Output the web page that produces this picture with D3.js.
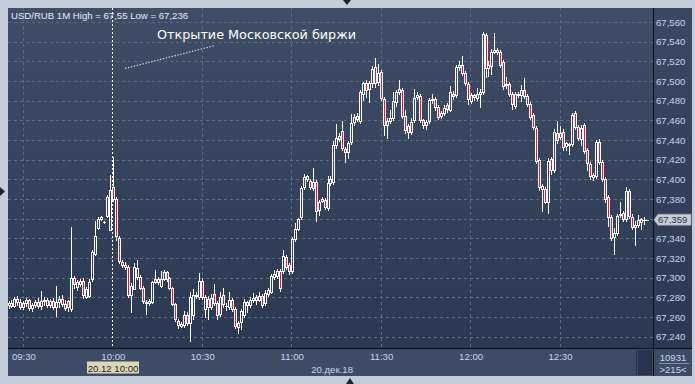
<!DOCTYPE html>
<html><head><meta charset="utf-8">
<script src="https://cdn.jsdelivr.net/npm/d3@7"></script>
<style>body{margin:0;background:#c3cdd9;}svg{display:block;}</style>
</head><body>
<svg id="c" width="695" height="384"></svg>
<script>
// ---- data (USD/RUB 1-minute candles, 20.12.18, from 09:25) ----
const startTime = "09:25";
const opens = [67.272,67.274,67.271,67.278,67.275,67.270,67.274,67.277,67.269,67.272,67.275,67.271,67.276,67.277,67.272,67.276,67.270,67.275,67.278,67.273,67.276,
67.268,67.300,67.291,67.297,67.297,67.280,67.281,67.299,67.324,67.351,67.360,67.357,67.363,67.349,67.392,67.380,67.340,67.316,67.313,67.311,
67.282,67.289,67.301,67.301,67.290,67.275,67.274,67.275,67.299,67.296,67.292,67.299,67.306,67.300,67.290,67.273,67.256,67.251,67.252,67.262,
67.254,67.262,67.282,67.280,67.297,67.268,67.278,67.270,67.283,67.274,67.263,67.282,67.271,67.270,67.277,67.268,67.254,67.255,67.262,67.275,
67.272,67.277,67.280,67.277,67.281,67.274,67.283,67.285,67.301,67.302,67.307,67.307,67.321,67.313,67.307,67.339,67.350,67.362,67.392,67.400,
67.398,67.391,67.397,67.369,67.378,67.379,67.371,67.396,67.397,67.435,67.441,67.449,67.431,67.428,67.438,67.458,67.464,67.459,67.487,67.498,
67.492,67.498,67.514,67.499,67.509,67.482,67.455,67.459,67.462,67.479,67.489,67.491,67.464,67.448,67.458,67.460,67.484,67.485,67.460,67.455,
67.459,67.481,67.482,67.474,67.464,67.467,67.476,67.471,67.487,67.486,67.514,67.516,67.508,67.497,67.480,67.486,67.483,67.487,67.489,67.547,
67.513,67.515,67.530,67.532,67.530,67.519,67.496,67.497,67.487,67.475,67.487,67.486,67.491,67.485,67.477,67.465,67.452,67.420,67.393,67.390,
67.377,67.421,67.409,67.447,67.443,67.448,67.434,67.436,67.436,67.467,67.453,67.441,67.455,67.430,67.416,67.404,67.403,67.438,67.418,67.400,
67.382,67.362,67.341,67.345,67.364,67.366,67.360,67.388,67.362,67.352,67.354,67.360,67.359,67.359];
const highs = [67.276,67.277,67.280,67.281,67.278,67.276,67.279,67.278,67.274,67.277,67.279,67.286,67.280,67.279,67.278,67.279,67.292,67.281,67.282,67.277,67.277,
67.352,67.302,67.298,67.299,67.300,67.291,67.299,67.328,67.358,67.362,67.363,67.358,67.384,67.404,67.423,67.382,67.342,67.318,67.316,67.313,
67.295,67.315,67.318,67.303,67.292,67.277,67.278,67.297,67.308,67.301,67.307,67.308,67.307,67.301,67.291,67.274,67.258,67.255,67.266,67.265,
67.285,67.288,67.285,67.305,67.300,67.282,67.281,67.283,67.294,67.276,67.285,67.290,67.274,67.285,67.279,67.270,67.256,67.268,67.278,67.276,
67.280,67.284,67.282,67.285,67.283,67.287,67.290,67.304,67.308,67.309,67.309,67.328,67.323,67.315,67.341,67.356,67.361,67.393,67.405,67.404,
67.400,67.412,67.399,67.379,67.382,67.381,67.403,67.403,67.439,67.456,67.447,67.459,67.433,67.439,67.466,67.466,67.467,67.491,67.499,67.501,
67.500,67.515,67.523,67.517,67.511,67.484,67.462,67.471,67.489,67.491,67.501,67.493,67.471,67.456,67.462,67.492,67.489,67.487,67.461,67.460,
67.483,67.487,67.484,67.476,67.470,67.476,67.478,67.495,67.490,67.516,67.520,67.525,67.510,67.499,67.488,67.487,67.493,67.492,67.550,67.549,
67.520,67.533,67.549,67.534,67.532,67.521,67.504,67.499,67.489,67.489,67.489,67.496,67.503,67.487,67.479,67.467,67.454,67.422,67.395,67.392,
67.422,67.423,67.451,67.459,67.454,67.451,67.438,67.437,67.467,67.469,67.455,67.455,67.457,67.432,67.418,67.406,67.440,67.441,67.420,67.402,
67.384,67.364,67.351,67.365,67.377,67.368,67.392,67.390,67.365,67.358,67.364,67.361,67.362,67.359];
const lows = [67.269,67.270,67.270,67.272,67.268,67.268,67.271,67.267,67.266,67.270,67.269,67.268,67.272,67.270,67.270,67.268,67.261,67.270,67.271,67.267,67.266,
67.266,67.290,67.287,67.292,67.279,67.279,67.280,67.297,67.323,67.350,67.359,67.356,67.362,67.348,67.378,67.338,67.315,67.311,67.309,67.280,
67.265,67.288,67.299,67.288,67.274,67.263,67.272,67.274,67.295,67.294,67.291,67.298,67.297,67.288,67.272,67.256,67.249,67.250,67.250,67.252,
67.236,67.258,67.279,67.278,67.278,67.260,67.258,67.268,67.272,67.258,67.261,67.270,67.267,67.268,67.266,67.249,67.244,67.248,67.260,67.265,
67.270,67.275,67.273,67.276,67.270,67.272,67.281,67.284,67.299,67.300,67.286,67.305,67.309,67.304,67.305,67.337,67.348,67.360,67.390,67.398,
67.390,67.389,67.358,67.364,67.377,67.370,67.369,67.394,67.395,67.432,67.439,67.430,67.418,67.422,67.436,67.455,67.459,67.457,67.481,67.484,
67.479,67.494,67.494,67.496,67.481,67.445,67.442,67.457,67.460,67.475,67.487,67.462,67.447,67.442,67.446,67.458,67.482,67.458,67.452,67.451,
67.457,67.478,67.471,67.461,67.462,67.465,67.468,67.469,67.482,67.484,67.511,67.506,67.496,67.477,67.478,67.481,67.481,67.474,67.487,67.504,
67.505,67.507,67.528,67.527,67.514,67.492,67.493,67.485,67.472,67.473,67.484,67.480,67.483,67.475,67.461,67.451,67.417,67.389,67.368,67.376,
67.366,67.405,67.407,67.437,67.441,67.430,67.430,67.426,67.434,67.451,67.440,67.435,67.427,67.409,67.400,67.399,67.401,67.416,67.398,67.377,
67.353,67.338,67.324,67.343,67.362,67.358,67.358,67.361,67.350,67.333,67.352,67.350,67.355,67.359];
const closes = [67.274,67.271,67.278,67.275,67.270,67.274,67.277,67.269,67.272,67.275,67.271,67.276,67.277,67.272,67.276,67.270,67.275,67.278,67.273,67.269,67.270,
67.300,67.294,67.296,67.294,67.282,67.289,67.296,67.326,67.342,67.360,67.362,67.357,67.382,67.389,67.380,67.342,67.317,67.313,67.311,67.282,
67.292,67.311,67.310,67.290,67.276,67.274,67.276,67.296,67.296,67.299,67.299,67.306,67.299,67.290,67.273,67.258,67.252,67.253,67.262,67.254,
67.280,67.282,67.281,67.297,67.280,67.280,67.270,67.279,67.274,67.262,67.280,67.273,67.271,67.277,67.268,67.251,67.250,67.266,67.275,67.272,
67.277,67.279,67.277,67.281,67.272,67.284,67.287,67.302,67.304,67.307,67.290,67.322,67.311,67.307,67.339,67.350,67.360,67.391,67.402,67.403,
67.392,67.397,67.368,67.377,67.380,67.372,67.396,67.400,67.435,67.442,67.444,67.432,67.428,67.437,67.457,67.463,67.461,67.489,67.498,67.491,
67.498,67.512,67.498,67.508,67.483,67.455,67.459,67.462,67.480,67.489,67.492,67.464,67.450,67.454,67.448,67.483,67.486,67.460,67.455,67.458,
67.481,67.482,67.474,67.463,67.467,67.473,67.472,67.489,67.485,67.514,67.516,67.508,67.498,67.482,67.486,67.484,67.487,67.489,67.548,67.513,
67.516,67.530,67.532,67.529,67.516,67.495,67.497,67.487,67.477,67.487,67.486,67.491,67.485,67.477,67.463,67.453,67.419,67.392,67.390,67.377,
67.419,67.409,67.448,67.440,67.447,67.433,67.437,67.435,67.465,67.453,67.442,67.452,67.429,67.417,67.403,67.402,67.438,67.418,67.400,67.380,
67.362,67.340,67.345,67.363,67.365,67.360,67.388,67.363,67.352,67.354,67.359,67.357,67.359,67.359];
const priceTicks = [67.24,67.26,67.28,67.30,67.32,67.34,67.36,67.38,67.40,67.42,67.44,67.46,67.48,67.50,67.52,67.54,67.56];
const timeTicks = ["09:30","10:00","10:30","11:00","11:30","12:00","12:30"];
const titleText = "USD/RUB 1M High = 67,55 Low = 67,236";
const noteText = "Открытие Московской биржи";
const markedTime = "10:00";
const markedLabel = "20.12 10:00";
const dateLabel = "20.дек.18";
const volumeText = "10931";
const countText = ">215<";
const lastPrice = 67.359;

// ---- layout ----
const svg = d3.select("#c");
const P = {l:8, t:8, r:653, b:348};
const parseT = d3.timeParse("%H:%M");
const t0 = parseT(startTime);
const n = closes.length;
const x = d3.scaleTime().domain([t0, d3.timeMinute.offset(t0, n-1)]).range([9, 647]);
const y = d3.scaleLinear().domain([67.24, 67.56]).range([336.7, 22]);
const loc = d3.formatLocale({decimal:",", thousands:" ", grouping:[3], currency:["",""]});
const fmt = loc.format(".3f");
const FONT = "'Liberation Sans', Arial, sans-serif";

const defs = svg.append("defs");
const g1 = defs.append("linearGradient").attr("id","bg").attr("x1",0).attr("y1",0).attr("x2",0).attr("y2",1);
g1.append("stop").attr("offset","0%").attr("stop-color","#3f4d67");
g1.append("stop").attr("offset","100%").attr("stop-color","#2b3852");
const g2 = defs.append("linearGradient").attr("id","bg2").attr("x1",0).attr("y1",0).attr("x2",0).attr("y2",1);
g2.append("stop").attr("offset","0%").attr("stop-color","#3b4862");
g2.append("stop").attr("offset","100%").attr("stop-color","#2c3852");
defs.append("clipPath").attr("id","clip").append("rect").attr("x",P.l).attr("y",P.t).attr("width",P.r-P.l).attr("height",P.b-P.t);

// frame
svg.append("rect").attr("width",695).attr("height",384).attr("fill","#c3cdd9");
svg.append("rect").attr("x",P.l).attr("y",P.t).attr("width",P.r-P.l).attr("height",P.b-P.t).attr("fill","url(#bg)");
svg.append("rect").attr("x",P.r).attr("y",P.t).attr("width",692-P.r).attr("height",P.b-P.t).attr("fill","url(#bg2)");
svg.append("rect").attr("x",P.l).attr("y",P.b).attr("width",692-P.l).attr("height",376-P.b).attr("fill","#3e4b64");

// grid
const grid = svg.append("g").attr("clip-path","url(#clip)");
grid.selectAll("line.h").data(priceTicks).join("line")
  .attr("x1",P.l).attr("x2",P.r)
  .attr("y1",d=>Math.round(y(d))+0.5).attr("y2",d=>Math.round(y(d))+0.5)
  .attr("stroke","#5b6984").attr("stroke-dasharray","3,3");
grid.selectAll("line.v").data(timeTicks.filter(t=>t!==markedTime)).join("line")
  .attr("x1",d=>Math.round(x(parseT(d)))-0.5).attr("x2",d=>Math.round(x(parseT(d)))-0.5)
  .attr("y1",P.t).attr("y2",P.b)
  .attr("stroke","#5b6984").attr("stroke-dasharray","3,3");

// candles
const data = closes.map((c,i)=>({t:d3.timeMinute.offset(t0,i), o:opens[i], h:highs[i], l:lows[i], c}));
const cg = svg.append("g").attr("clip-path","url(#clip)");
data.forEach(d=>{
  const X = Math.round(x(d.t)-1.5);
  const top = Math.round(y(Math.max(d.o,d.c)));
  const bot = Math.round(y(Math.min(d.o,d.c)));
  const hy = Math.round(y(d.h)), ly = Math.round(y(d.l));
  if (hy < top) cg.append("line").attr("x1",X+1.5).attr("x2",X+1.5).attr("y1",hy).attr("y2",top).attr("stroke","#fff");
  if (ly > bot) cg.append("line").attr("x1",X+1.5).attr("x2",X+1.5).attr("y1",bot).attr("y2",ly+1).attr("stroke","#fff");
  if (bot - top < 2) {
    cg.append("rect").attr("x",X).attr("y",top).attr("width",3).attr("height",Math.max(bot-top,1)+ (bot-top>=1?1:0)).attr("fill","#fff");
  } else {
    cg.append("rect").attr("x",X+0.5).attr("y",top+0.5).attr("width",2).attr("height",bot-top)
      .attr("fill", d.c < d.o ? "#e5163d" : "none").attr("stroke","#fff");
  }
});

// 10:00 marker line
const mx = Math.round(x(parseT(markedTime)))-0.5;
svg.append("line").attr("x1",mx).attr("x2",mx).attr("y1",P.t).attr("y2",P.b)
  .attr("stroke","#ffffff").attr("stroke-dasharray","2,2");

// separators
svg.append("line").attr("x1",P.r+0.5).attr("x2",P.r+0.5).attr("y1",P.t).attr("y2",376).attr("stroke","#0c0f16");
svg.append("line").attr("x1",P.l).attr("x2",692).attr("y1",P.b+0.5).attr("y2",P.b+0.5).attr("stroke","#0c0f16");

// title + annotation
svg.append("text").attr("x",11).attr("y",19).attr("font-family",FONT).attr("font-size",9.6)
  .attr("fill","#e8eef6").text(titleText);
svg.append("text").attr("x",157).attr("y",38.5).attr("font-family","'DejaVu Sans', sans-serif").attr("font-size",13)
  .attr("textLength",199).attr("lengthAdjust","spacingAndGlyphs").attr("fill","#ffffff").text(noteText);
svg.append("line").attr("x1",125).attr("y1",68.5).attr("x2",215).attr("y2",45.5)
  .attr("stroke","#c3cad6").attr("stroke-width",1.3).attr("stroke-dasharray","1.5,1.5");

// right axis labels (the tick hidden behind the last-price tag is not shown)
const ly0 = y(lastPrice);
svg.append("g").selectAll("text").data(priceTicks.filter(d=>Math.abs(y(d)-ly0) > 9)).join("text")
  .attr("x",656).attr("y",d=>y(d)+3.5).attr("font-family",FONT).attr("font-size",9.6)
  .attr("fill","#c4d6f0").text(d=>fmt(d));

// last price tag
svg.append("path").attr("d",`M654,${ly0} L658,${ly0-5.5} L691,${ly0-5.5} L691,${ly0+5.5} L658,${ly0+5.5} Z`)
  .attr("fill","#c9cdd5").attr("stroke","#9aa3b2").attr("stroke-width",0.6);
svg.append("text").attr("x",658).attr("y",ly0+3.5).attr("font-family",FONT).attr("font-size",9.6)
  .attr("fill","#2a3346").text(fmt(lastPrice));

// bottom axis labels
svg.append("g").selectAll("text").data(timeTicks).join("text")
  .attr("x",d=>x(parseT(d))).attr("y",360).attr("text-anchor","middle").attr("font-family",FONT).attr("font-size",9.6)
  .attr("fill","#c4d6f0").text(d=>d);
svg.append("rect").attr("x",87).attr("y",361.5).attr("width",52).attr("height",12).attr("fill","#dcd8b6");
svg.append("text").attr("x",mx+0.5).attr("y",371.5).attr("text-anchor","middle").attr("font-family",FONT).attr("font-size",9.6)
  .attr("fill","#1e2330").text(markedLabel);
svg.append("text").attr("x",353).attr("y",373).attr("text-anchor","end").attr("font-family",FONT).attr("font-size",9.6)
  .attr("fill","#c4d6f0").text(dateLabel);

// scroll thumb
svg.append("line").attr("x1",636.5).attr("x2",636.5).attr("y1",350).attr("y2",375).attr("stroke","#26304a");
svg.append("rect").attr("x",638).attr("y",350).attr("width",14).attr("height",25).attr("fill","#28344d");

// volume / count
svg.append("text").attr("x",673).attr("y",361).attr("text-anchor","middle").attr("font-family",FONT).attr("font-size",9.6)
  .attr("fill","#c4d6f0").text(volumeText);
svg.append("line").attr("x1",659).attr("x2",689).attr("y1",363.5).attr("y2",363.5).attr("stroke","#8090a8");
svg.append("text").attr("x",673).attr("y",373).attr("text-anchor","middle").attr("font-family",FONT).attr("font-size",9.6)
  .attr("fill","#c4d6f0").text(countText);

// frame arrows
svg.append("path").attr("d","M343,0 L351,0 L347,5 Z").attr("fill","#1c2332");
svg.append("path").attr("d","M346,384 L354,384 L350,378 Z").attr("fill","#1c2332");
svg.append("path").attr("d","M0,187 L0,196 L5,191.5 Z").attr("fill","#1c2332");
</script>
</body></html>
